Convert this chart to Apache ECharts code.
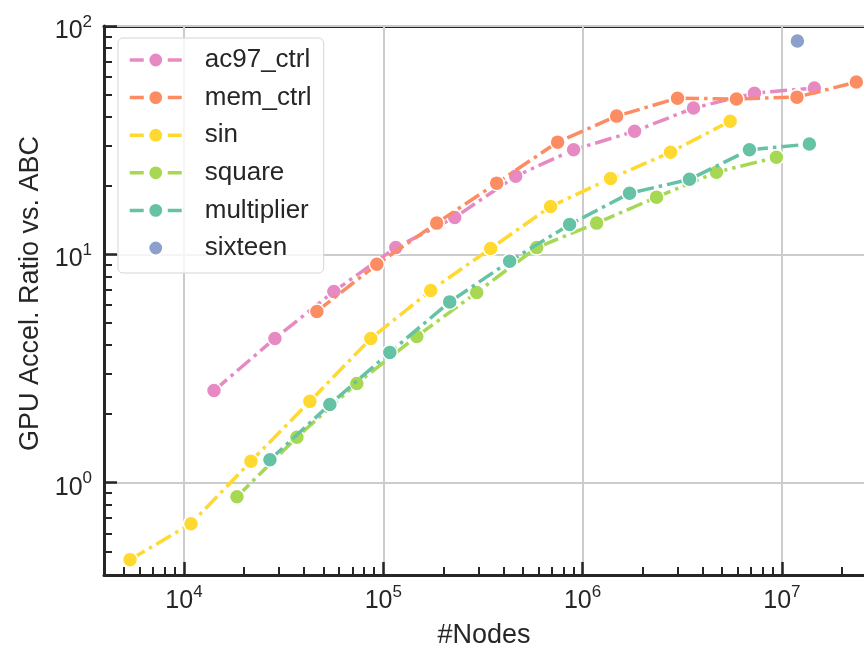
<!DOCTYPE html>
<html><head><meta charset="utf-8">
<script src="https://cdn.jsdelivr.net/npm/echarts@6/dist/echarts.min.js"></script>
<style>html,body{margin:0;padding:0;background:#fff}#c{width:864px;height:651px}</style>
</head><body><div id="c"></div>
<script>
// ---- data ----
const seriesNames = ['ac97_ctrl', 'mem_ctrl', 'sin', 'square', 'multiplier', 'sixteen'];
const seriesColors = ['#e78ac3', '#fc8d62', '#ffd92f', '#a6d854', '#66c2a5', '#8da0cb'];

const ac97X = [14140, 28590, 56470, 115500, 228200, 461500, 901300, 1823000, 3601000, 7282000, 14550000];
const ac97Y = [2.53, 4.28, 6.88, 10.7, 14.5, 22.0, 28.7, 34.6, 43.7, 50.8, 53.5];

const memX = [46420, 92780, 185400, 370600, 749300, 1481000, 2994000, 5915000, 11900000, 23630000];
const memY = [5.62, 9.04, 13.7, 20.5, 31.0, 40.3, 48.3, 47.9, 48.8, 56.8];

const sinX = [5362, 10840, 21670, 42810, 86570, 173000, 345700, 691000, 1382000, 2762000, 5500000];
const sinY = [0.46, 0.661, 1.24, 2.27, 4.28, 6.95, 10.6, 16.2, 21.5, 28.0, 38.3];

const squareX = [18440, 36850, 73650, 147200, 294200, 588100, 1176000, 2349000, 4696000, 9385000];
const squareY = [0.868, 1.58, 2.72, 4.37, 6.81, 10.7, 13.7, 17.8, 22.9, 26.6];

const multX = [26990, 53920, 107800, 215400, 430600, 860500, 1720000, 3439000, 6874000, 13730000];
const multY = [1.26, 2.20, 3.72, 6.19, 9.32, 13.5, 18.5, 21.3, 28.7, 30.4];

const sixteenX = [11960000];
const sixteenY = [86];

const xMajorTicks = [1e4, 1e5, 1e6, 1e7];
const xMinorTicks = [5e3, 6e3, 7e3, 8e3, 9e3, 2e4, 3e4, 4e4, 5e4, 6e4, 7e4, 8e4, 9e4,
  2e5, 3e5, 4e5, 5e5, 6e5, 7e5, 8e5, 9e5, 2e6, 3e6, 4e6, 5e6, 6e6, 7e6, 8e6, 9e6, 2e7];
const yMajorTicks = [1, 10, 100];
const yMinorTicks = [0.5, 0.6, 0.7, 0.8, 0.9, 2, 3, 4, 5, 6, 7, 8, 9, 20, 30, 40, 50, 60, 70, 80, 90];

const xMin = 3968, xMax = 25820000;
const yMin = 0.394, yMax = 100;

// ---- chart ----
const FONT = '"Liberation Sans", Arial, Helvetica, sans-serif';
const INK = '#262626';
const zip = (xs, ys) => xs.map((x, i) => [x, ys[i]]);
const allX = [ac97X, memX, sinX, squareX, multX, sixteenX];
const allY = [ac97Y, memY, sinY, squareY, multY, sixteenY];

const supRich = {
  b: { fontSize: 25, lineHeight: 25, padding: [10, 0, 0, 0], color: INK, fontFamily: FONT },
  s: { fontSize: 17, lineHeight: 17, verticalAlign: 'top', color: INK, fontFamily: FONT }
};
const supFmt = v => '{b|10}{s|' + Math.round(Math.log10(v)) + '}';

const series = seriesNames.map((name, i) => ({
  name: name,
  type: 'line',
  xAxisIndex: 0, yAxisIndex: 0,
  data: zip(allX[i], allY[i]),
  symbol: 'circle',
  symbolSize: 15,
  showAllSymbol: true,
  clip: false,
  itemStyle: { color: seriesColors[i], borderColor: '#ffffff', borderWidth: 1.5 },
  lineStyle: name === 'sixteen'
    ? { width: 0, opacity: 0, color: seriesColors[i] }
    : { width: 3.5, type: [17, 5, 3.5, 5], cap: 'butt', color: seriesColors[i] },
  emphasis: { disabled: true },
  z: 3 + i
}));

const option = {
  animation: false,
  backgroundColor: '#ffffff',
  textStyle: { fontFamily: FONT },
  grid: { left: 104, top: 26, right: 0, bottom: 76, containLabel: false, outerBoundsMode: 'none' },
  legend: {
    orient: 'vertical',
    left: 118, top: 38,
    padding: [8, 12, 11, 10],
    itemWidth: 52, itemHeight: 18.5,
    itemGap: 9.6,
    backgroundColor: 'rgba(255,255,255,0.8)',
    borderColor: '#d6d6d6', borderWidth: 1, borderRadius: 5,
    selectedMode: false,
    lineStyle: { type: [14, 24], width: 3.5 },
    textStyle: { fontSize: 26, lineHeight: 28, color: INK, fontFamily: FONT, padding: [0, 0, 0, 18] },
    data: seriesNames
  },
  xAxis: [
    {
      type: 'log', position: 'bottom', min: xMin, max: xMax,
      name: '#Nodes', nameLocation: 'middle', nameGap: 47,
      nameTextStyle: { fontSize: 27, color: INK, fontFamily: FONT },
      axisLine: { show: true, lineStyle: { color: INK, width: 3 } },
      axisTick: { show: true, inside: true, length: 13, lineStyle: { color: INK, width: 2.5 }, customValues: xMajorTicks },
      axisLabel: { show: true, margin: 9, customValues: xMajorTicks, formatter: supFmt, rich: supRich },
      splitLine: { show: true, lineStyle: { color: '#cccccc', width: 2 } },
      z: 1
    },
    {
      type: 'log', position: 'bottom', min: xMin, max: xMax,
      axisLine: { show: false },
      axisTick: { show: true, inside: true, length: 8, lineStyle: { color: INK, width: 2 }, customValues: xMinorTicks },
      axisLabel: { show: false },
      splitLine: { show: false }
    },
    {
      type: 'log', position: 'top', min: xMin, max: xMax,
      axisLine: { show: true, lineStyle: { color: INK, width: 3 } },
      axisTick: { show: false }, axisLabel: { show: false }, splitLine: { show: false }
    }
  ],
  yAxis: [
    {
      type: 'log', position: 'left', min: yMin, max: yMax,
      name: 'GPU Accel. Ratio vs. ABC', nameLocation: 'middle', nameGap: 59,
      nameTextStyle: { fontSize: 27, color: INK, fontFamily: FONT, padding: [0, 0, 0, 14] },
      axisLine: { show: true, lineStyle: { color: INK, width: 3 } },
      axisTick: { show: true, inside: true, length: 13, lineStyle: { color: INK, width: 2.5 }, customValues: yMajorTicks },
      axisLabel: { show: true, margin: 12, customValues: yMajorTicks, formatter: supFmt, rich: supRich },
      splitLine: { show: true, lineStyle: { color: '#cccccc', width: 2 } },
      z: 1
    },
    {
      type: 'log', position: 'left', min: yMin, max: yMax,
      axisLine: { show: false },
      axisTick: { show: true, inside: true, length: 8, lineStyle: { color: INK, width: 2 }, customValues: yMinorTicks },
      axisLabel: { show: false },
      splitLine: { show: false }
    }
  ],
  series: series
};

const chart = echarts.init(document.getElementById('c'), null, { renderer: 'canvas' });
chart.setOption(option);
</script>
</body></html>
